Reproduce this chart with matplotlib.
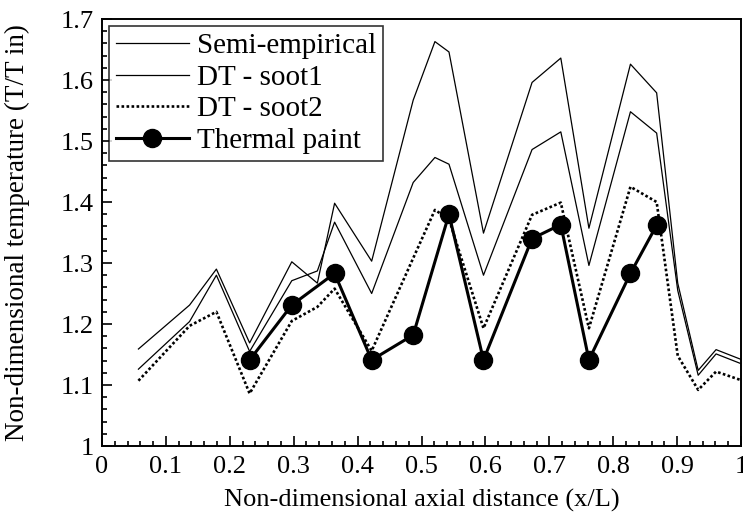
import matplotlib
matplotlib.use('Agg')
import matplotlib.pyplot as plt
from matplotlib.ticker import MultipleLocator

plt.rcParams['font.family'] = ['Liberation Serif', 'DejaVu Serif']

# axial positions shared by the predictions
x_pred = [0.057, 0.137, 0.179, 0.231, 0.297, 0.337, 0.364, 0.422, 0.487, 0.521,
          0.543, 0.597, 0.673, 0.718, 0.762, 0.827, 0.868, 0.901, 0.933, 0.961, 1.0]
semi_emp = [1.159, 1.231, 1.290, 1.169, 1.302, 1.267, 1.398, 1.303, 1.567, 1.663,
            1.646, 1.349, 1.596, 1.636, 1.357, 1.626, 1.579, 1.267, 1.124, 1.158, 1.142]
dt_soot1 = [1.126, 1.204, 1.280, 1.155, 1.271, 1.287, 1.367, 1.250, 1.432, 1.473,
            1.462, 1.280, 1.486, 1.515, 1.296, 1.548, 1.513, 1.255, 1.116, 1.151, 1.135]
dt_soot2 = [1.107, 1.197, 1.220, 1.086, 1.205, 1.228, 1.258, 1.156, 1.308, 1.387,
            1.372, 1.193, 1.379, 1.399, 1.193, 1.425, 1.400, 1.148, 1.092, 1.122, 1.108]

# thermal paint measurements
x_paint = [0.231, 0.297, 0.364, 0.422, 0.487, 0.543, 0.597, 0.673, 0.718, 0.762, 0.827, 0.868]
t_paint = [1.141, 1.231, 1.283, 1.141, 1.182, 1.380, 1.141, 1.340, 1.363, 1.141, 1.283, 1.362]

x_ticks = [0, 0.1, 0.2, 0.3, 0.4, 0.5, 0.6, 0.7, 0.8, 0.9, 1]
x_labels = ['0', '0.1', '0.2', '0.3', '0.4', '0.5', '0.6', '0.7', '0.8', '0.9', '1']
y_ticks = [1, 1.1, 1.2, 1.3, 1.4, 1.5, 1.6, 1.7]
y_labels = ['1', '1.1', '1.2', '1.3', '1.4', '1.5', '1.6', '1.7']

fig = plt.figure(figsize=(7.43, 5.27), dpi=100)
ax = fig.add_axes([0.1373, 0.1537, 0.8600, 0.8102])

ax.plot(x_pred, semi_emp, color='black', lw=0.9, label='Semi-empirical')
ax.plot(x_pred, dt_soot1, color='black', lw=0.9, label='DT - soot1')
ax.plot(x_pred, dt_soot2, color='black', lw=1.9, ls=(0, (1, 0.9)), label='DT - soot2')
ax.plot(x_paint, t_paint, color='black', lw=2.2, marker='o', ms=13, label='Thermal paint')

ax.set_xlim(0, 1)
ax.set_ylim(1, 1.7)
ax.set_xticks(x_ticks)
ax.set_xticklabels(x_labels)
ax.set_yticks(y_ticks)
ax.set_yticklabels(y_labels)
ax.xaxis.set_minor_locator(MultipleLocator(0.02))
ax.yaxis.set_minor_locator(MultipleLocator(0.02))
ax.tick_params(which='both', direction='in', top=False, right=False, labelsize=19, width=1.2)
ax.tick_params(which='major', length=7)
ax.tick_params(which='minor', length=3.5)
ax.tick_params(axis='x', pad=7)
ax.tick_params(axis='y', pad=6)
for s in ax.spines.values():
    s.set_linewidth(1.4)

ax.set_xlabel('Non-dimensional axial distance (x/L)', fontsize=19, labelpad=8)
ax.set_ylabel('Non-dimensional temperature (T/T in)', fontsize=19.5, labelpad=22)

leg = ax.legend(loc='upper left', fontsize=21, frameon=True, fancybox=False,
                edgecolor='black', handlelength=2.5, borderaxespad=0.25,
                labelspacing=0.18, handletextpad=0.3, borderpad=0.22)
leg.get_frame().set_linewidth(1.2)

fig.savefig('out.png', dpi=100)
